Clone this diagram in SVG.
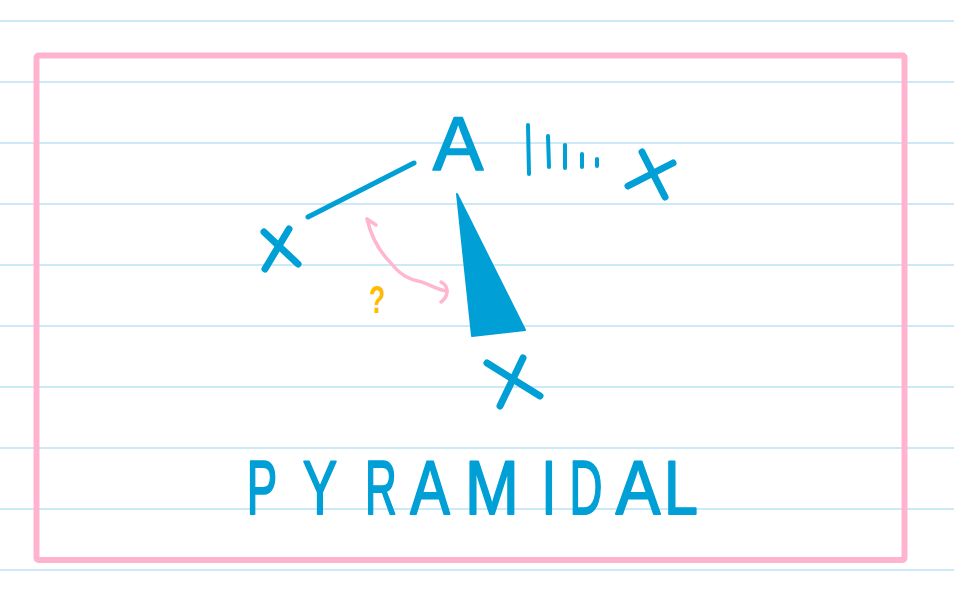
<svg xmlns="http://www.w3.org/2000/svg" width="954" height="600" viewBox="0 0 954 600">
<defs>
<style>
.rule{stroke:#cce9f7;stroke-width:2}
.frame{fill:none;stroke:#ffb3cf;stroke-width:6;stroke-linejoin:round}
.ink{stroke:#009fd6;stroke-linecap:round;stroke-linejoin:round;fill:none}
.x{stroke-width:7}
.fill{fill:#009fd6;stroke:#009fd6;stroke-width:2;stroke-linejoin:round}
.label{font-family:"Liberation Sans","DejaVu Sans",sans-serif;fill:#009fd6;stroke:#009fd6;stroke-width:1.5;stroke-linejoin:round;text-anchor:middle}
.t{font-family:"Liberation Sans","DejaVu Sans",sans-serif;font-size:76px;fill:#009fd6;stroke:#009fd6;stroke-width:2;stroke-linejoin:round;text-anchor:middle}
.pink{stroke:#ffb6d0;stroke-width:3.5;fill:none;stroke-linecap:round;stroke-linejoin:round}
.q{font-family:"Liberation Sans","DejaVu Sans",sans-serif;font-weight:bold;fill:#ffbb00;text-anchor:middle}
</style>
</defs>
<rect width="954" height="600" fill="#ffffff"/>
<g id="paper-lines">
<line class="rule" x1="0" y1="21" x2="954" y2="21"/>
<line class="rule" x1="0" y1="82" x2="954" y2="82"/>
<line class="rule" x1="0" y1="143" x2="954" y2="143"/>
<line class="rule" x1="0" y1="204" x2="954" y2="204"/>
<line class="rule" x1="0" y1="265" x2="954" y2="265"/>
<line class="rule" x1="0" y1="326" x2="954" y2="326"/>
<line class="rule" x1="0" y1="387" x2="954" y2="387"/>
<line class="rule" x1="0" y1="448" x2="954" y2="448"/>
<line class="rule" x1="0" y1="509" x2="954" y2="509"/>
<line class="rule" x1="0" y1="570" x2="954" y2="570"/>
</g>
<rect id="frame" class="frame" x="36.5" y="55.5" width="868" height="504.5" rx="2"/>
<g id="connectors">
<line class="ink" stroke-width="5" x1="308" y1="217" x2="414" y2="163"/>
<g id="hash-bond" class="ink" stroke-width="4">
<line x1="528" y1="125" x2="529" y2="174"/>
<line x1="548" y1="136" x2="549" y2="167"/>
<line x1="565" y1="145" x2="565" y2="168"/>
<line x1="582" y1="154" x2="582" y2="167"/>
<line x1="597" y1="159" x2="597" y2="166"/>
</g>
<polygon id="wedge-bond" class="fill" points="457,194 525,330 472,336"/>
<g id="rotation-arrow">
<path class="pink" d="M367,219 C372,240 380,252 390,262 C398,272 405,278 418,281 C428,283 436,290 447,291"/>
<path class="pink" d="M367,219 L376,225"/>
<path class="pink" d="M441,282 C449,286 449,296 441,302"/>
</g>
</g>
<g id="atom-A">
<text class="label" x="458" y="170" font-size="76">A</text>
</g>
<g id="ligand-left">
<line class="ink x" x1="264" y1="232" x2="298" y2="264"/>
<line class="ink x" x1="289" y1="229" x2="265" y2="269"/>
</g>
<g id="ligand-right">
<line class="ink x" x1="628" y1="186" x2="673" y2="163"/>
<line class="ink x" x1="642" y1="152" x2="665" y2="197"/>
</g>
<g id="ligand-bottom">
<line class="ink x" x1="487" y1="363" x2="540" y2="396"/>
<line class="ink x" x1="523" y1="358" x2="500" y2="406"/>
</g>
<g id="question-mark">
<text class="q" transform="translate(377,313) scale(0.7,1)" font-size="38">?</text>
</g>
<g id="title">
<text class="t" transform="translate(262,514) scale(0.6,1)">P</text>
<text class="t" transform="translate(320,514) scale(0.68,1)">Y</text>
<text class="t" transform="translate(381,514) scale(0.58,1)">R</text>
<text class="t" transform="translate(430,514) scale(0.78,1)">A</text>
<text class="t" transform="translate(492,514) scale(0.85,1)">M</text>
<text class="t" transform="translate(549,514) scale(0.7,1)">I</text>
<text class="t" transform="translate(586,514) scale(0.6,1)">D</text>
<text class="t" transform="translate(638,514) scale(0.88,1)">A</text>
<text class="t" transform="translate(681,514) scale(0.8,1)">L</text>
</g>
</svg>
